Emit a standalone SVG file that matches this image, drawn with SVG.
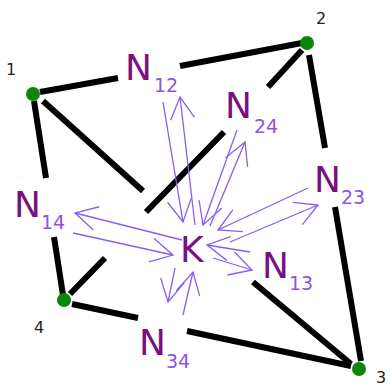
<svg xmlns="http://www.w3.org/2000/svg" width="391" height="386" viewBox="0 0 391 386">
<style>
.e{stroke:#000;stroke-width:6;fill:none}
.a{stroke:#8b5cf0;stroke-width:1.3;fill:none;marker-end:url(#ah)}
.n{fill:#0a870a}
.nl{font-family:"DejaVu Sans",sans-serif;font-size:16px;fill:#222}
.big{font-family:"DejaVu Sans",sans-serif;font-size:36px;fill:#7a0f80}
.sub{font-family:"DejaVu Sans",sans-serif;font-size:19px;fill:#8e52e6}
</style>
<defs>
<marker id="ah" viewBox="0 0 24 26" refX="23" refY="13" markerWidth="24" markerHeight="26" markerUnits="userSpaceOnUse" orient="auto">
<path d="M1,1 L23,13 L1,25" fill="none" stroke="#8b5cf0" stroke-width="1.3"/>
</marker>
</defs>
<rect width="391" height="386" fill="#fff"/>
<g id="connectors">
<line class="e" x1="40" y1="92" x2="118" y2="78"/>
<line class="e" x1="180" y1="66" x2="302" y2="43"/>
<line class="e" x1="34" y1="101" x2="46" y2="178"/>
<line class="e" x1="54" y1="237" x2="63" y2="295"/>
<line class="e" x1="43" y1="101" x2="143" y2="191"/>
<line class="e" x1="253" y1="282" x2="351" y2="364"/>
<line class="e" x1="302" y1="50" x2="268" y2="87"/>
<line class="e" x1="224" y1="132" x2="146" y2="212"/>
<line class="e" x1="105" y1="258" x2="70" y2="294"/>
<line class="e" x1="309" y1="55" x2="325" y2="148"/>
<line class="e" x1="335" y1="207" x2="361" y2="361"/>
<line class="e" x1="72" y1="304" x2="138" y2="318"/>
<line class="e" x1="187" y1="331" x2="351" y2="366"/>
<line class="a" x1="163" y1="102" x2="183" y2="222"/>
<line class="a" x1="195" y1="225" x2="180" y2="97"/>
<line class="a" x1="237" y1="130" x2="203" y2="225"/>
<line class="a" x1="210" y1="226" x2="245" y2="142"/>
<line class="a" x1="308" y1="188" x2="218" y2="230"/>
<line class="a" x1="230" y1="242" x2="318" y2="205"/>
<line class="a" x1="250" y1="252" x2="207" y2="245"/>
<line class="a" x1="213" y1="258" x2="252" y2="270"/>
<line class="a" x1="182" y1="240" x2="75" y2="213"/>
<line class="a" x1="73" y1="233" x2="173" y2="255"/>
<line class="a" x1="175" y1="268" x2="168" y2="302"/>
<line class="a" x1="183" y1="315" x2="193" y2="272"/>
</g>
<g id="node1"><circle class="n" cx="33" cy="94" r="7"/><text class="nl" x="11" y="75" text-anchor="middle">1</text></g>
<g id="node2"><circle class="n" cx="307" cy="43" r="7"/><text class="nl" x="321" y="24" text-anchor="middle">2</text></g>
<g id="node3"><circle class="n" cx="359" cy="369" r="7"/><text class="nl" x="381" y="383" text-anchor="middle">3</text></g>
<g id="node4"><circle class="n" cx="64" cy="300" r="7"/><text class="nl" x="39" y="333" text-anchor="middle">4</text></g>
<g id="K"><text class="big" x="180" y="262">K</text></g>
<g id="N12"><text class="big" x="125" y="80">N</text><text class="sub" x="154" y="92">12</text></g>
<g id="N24"><text class="big" x="225" y="118">N</text><text class="sub" x="254" y="133">24</text></g>
<g id="N23"><text class="big" x="314" y="192">N</text><text class="sub" x="341" y="204">23</text></g>
<g id="N14"><text class="big" x="14" y="217">N</text><text class="sub" x="41" y="229">14</text></g>
<g id="N13"><text class="big" x="262" y="278">N</text><text class="sub" x="289" y="290">13</text></g>
<g id="N34"><text class="big" x="139" y="355">N</text><text class="sub" x="166" y="368">34</text></g>
</svg>
